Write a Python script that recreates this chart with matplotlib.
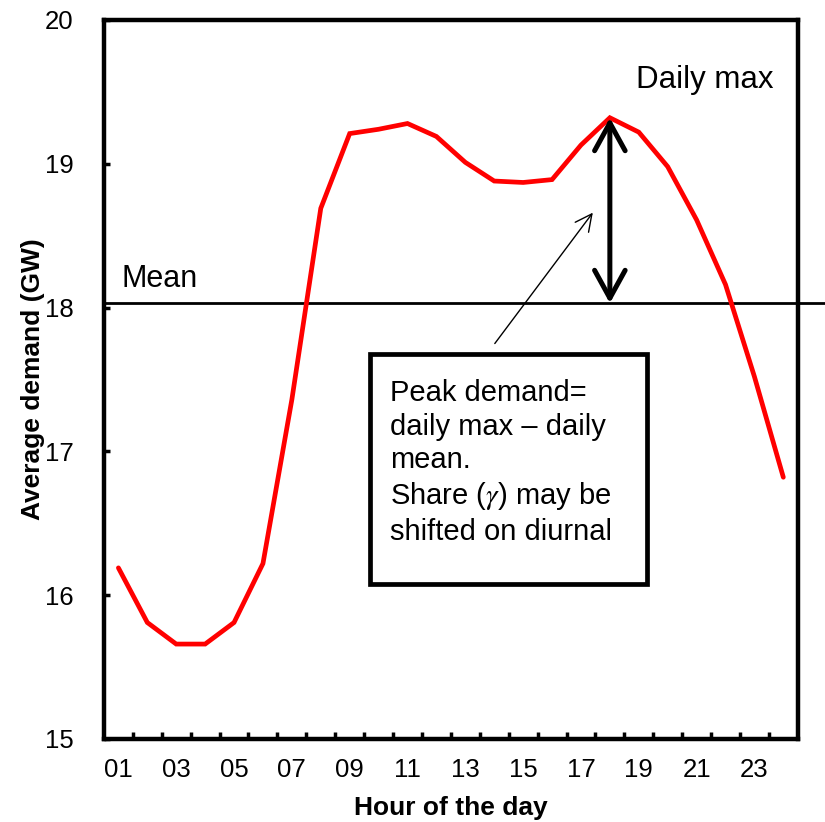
import numpy as np
import matplotlib
matplotlib.use("Agg")
import matplotlib.pyplot as plt
from matplotlib.patches import Rectangle

plt.rcParams['font.family'] = ['Liberation Sans', 'DejaVu Sans']
plt.rcParams['mathtext.fontset'] = 'stix'

# hourly average demand (GW)
hours = np.arange(1, 25)
demand = [16.19, 15.81, 15.66, 15.66, 15.81, 16.22, 17.36, 18.69,
          19.21, 19.24, 19.28, 19.19, 19.01, 18.88, 18.87, 18.89,
          19.13, 19.32, 19.22, 18.98, 18.61, 18.16, 17.52, 16.82]
hour_labels = ["%02d" % h for h in range(1, 25, 2)]
daily_mean = 18.03
peak_hour = 18

box_text = ("Peak demand=\ndaily max \u2013 daily\nmean.\n"
            "Share ($\\gamma$) may be\nshifted on diurnal")

fig = plt.figure(figsize=(8.25, 8.22), dpi=100)
ax = fig.add_axes([0.126, 0.101, 0.841, 0.8747])

ax.plot(hours, demand, color='#ff0000', lw=3.4, solid_joinstyle='miter',
        solid_capstyle='round', zorder=3)

# mean line runs past the right spine
ax.plot([0.5, 26], [daily_mean, daily_mean], color='black', lw=2, clip_on=False, zorder=2)

ax.set_xlim(0.5, 24.5)
ax.set_ylim(15, 20)
ax.set_xticks(range(1, 25, 2))
ax.set_xticklabels(hour_labels)
ax.set_xticks(np.arange(1.5, 24.5, 1), minor=True)
ax.set_yticks(range(15, 21))
ax.tick_params(axis='x', which='major', length=0, labelsize=18.5, pad=14)
ax.tick_params(axis='x', which='minor', direction='in', length=5, width=2.5)
ax.tick_params(axis='y', direction='in', length=4, width=2.5, labelsize=18.5, pad=22)
for s in ax.spines.values():
    s.set_linewidth(3.2)

ax.set_xlabel('Hour of the day', fontsize=19, fontweight='bold', labelpad=10)
ax.set_ylabel('Average demand (GW)', fontsize=19, fontweight='bold', labelpad=0)

ax.text(1.12, 18.14, 'Mean', fontsize=22, va='baseline', ha='left')
ax.text(18.9, 19.53, 'Daily max', fontsize=22.5, va='baseline', ha='left')

# peak demand: daily max down to the mean
ax.annotate('', xy=(peak_hour, daily_mean), xytext=(peak_hour, max(demand)),
            arrowprops=dict(arrowstyle='<->,head_length=1.0,head_width=0.55',
                            lw=3.6, color='black', shrinkA=0, shrinkB=0,
                            mutation_scale=20, capstyle='round'))
ax.annotate('', xy=(17.41, 18.66), xytext=(14.02, 17.75),
            arrowprops=dict(arrowstyle='->,head_length=0.6,head_width=0.3',
                            lw=1, color='black', shrinkA=0, shrinkB=0,
                            mutation_scale=20))

ax.add_patch(Rectangle((9.70, 16.08), 9.58, 1.60, facecolor='white',
                       edgecolor='black', lw=3.4, zorder=4))
ax.text(10.39, 17.50, box_text, fontsize=21, va='top', ha='left',
        linespacing=1.25, zorder=5)

fig.savefig('out.png', dpi=100)
